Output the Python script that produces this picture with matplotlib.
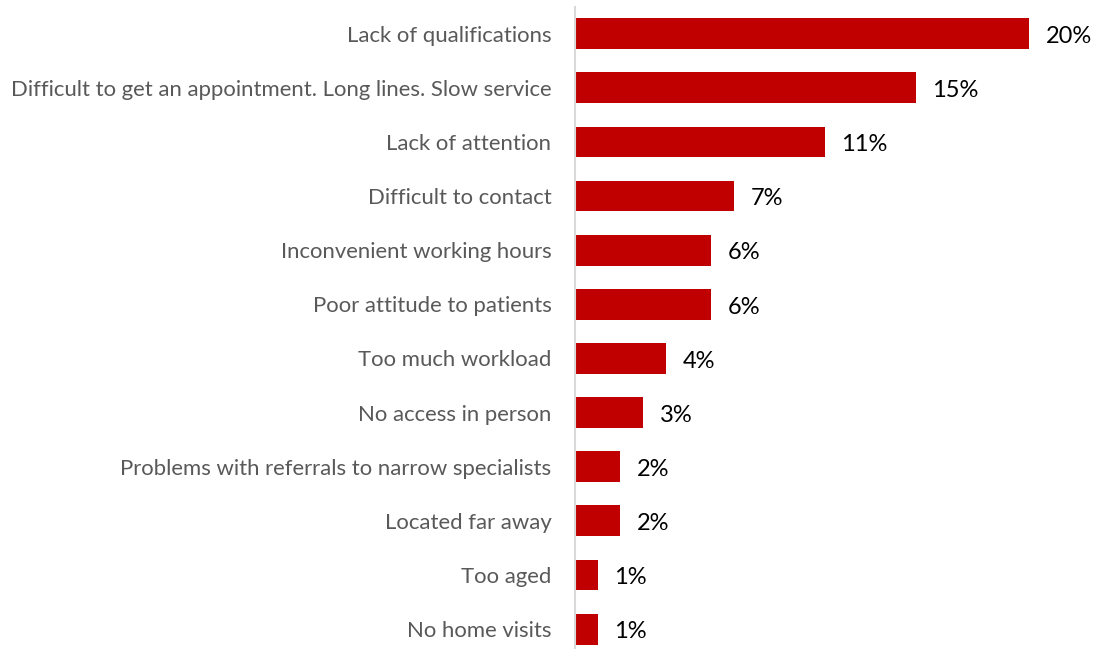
import matplotlib.pyplot as plt

# --- data ---
categories = [
    'Lack of qualifications',
    'Difficult to get an appointment. Long lines. Slow service',
    'Lack of attention',
    'Difficult to contact',
    'Inconvenient working hours',
    'Poor attitude to patients',
    'Too much workload',
    'No access in person',
    'Problems with referrals to narrow specialists',
    'Located far away',
    'Too aged',
    'No home visits',
]
values = [20, 15, 11, 7, 6, 6, 4, 3, 2, 2, 1, 1]

BAR_COLOR = '#C00000'
LABEL_COLOR = '#595959'

plt.rcParams['font.family'] = ['Lato', 'DejaVu Sans']

fig = plt.figure(figsize=(10.94, 6.49), dpi=100)
ax = fig.add_axes([0.5256, -0.011, 22 * 22.7 / 1094, 1.0008])

y = list(range(len(categories)))
bars = ax.barh(y, values, height=0.57, color=BAR_COLOR)

ax.set_xlim(0, 22)
ax.set_ylim(len(categories) - 0.5, -0.5)

ax.set_yticks(y)
ax.set_yticklabels(categories, fontsize=15.9, color=LABEL_COLOR)
ax.tick_params(axis='y', length=0, pad=17)
ax.set_xticks([])

for side in ['top', 'right', 'bottom']:
    ax.spines[side].set_visible(False)
ax.spines['left'].set_color('#d9d9d9')
ax.spines['left'].set_linewidth(1.5)

# value labels
for bar, v in zip(bars, values):
    ax.annotate(f'{v}%', (bar.get_width(), bar.get_y() + bar.get_height() / 2),
                xytext=(12, -2), textcoords='offset points',
                va='center', ha='left', fontsize=17, color='black')

fig.savefig('out.png', dpi=100)
